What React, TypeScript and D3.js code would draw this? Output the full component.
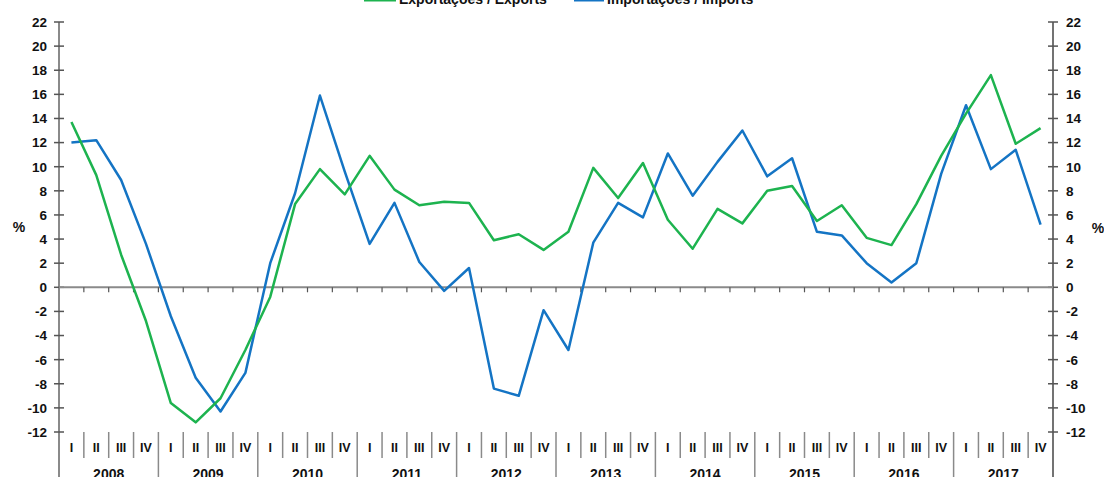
import React from "react";
import * as d3 from "d3";

// Quarterly year-on-year change, %, 2008 Q1 .. 2017 Q4
const years = ["2008", "2009", "2010", "2011", "2012", "2013", "2014", "2015", "2016", "2017"];
const quarters = ["I", "II", "III", "IV"];

const exportsPct = [
  13.7, 9.3, 2.7, -2.8,
  -9.6, -11.2, -9.2, -5.2,
  -0.8, 6.9, 9.8, 7.7,
  10.9, 8.1, 6.8, 7.1,
  7.0, 3.9, 4.4, 3.1,
  4.6, 9.9, 7.4, 10.3,
  5.6, 3.2, 6.5, 5.3,
  8.0, 8.4, 5.5, 6.8,
  4.1, 3.5, 6.9, 10.9,
  14.4, 17.6, 11.9, 13.2,
];

const importsPct = [
  12.0, 12.2, 8.9, 3.6,
  -2.4, -7.5, -10.3, -7.1,
  2.0, 7.8, 15.9, 9.6,
  3.6, 7.0, 2.1, -0.3,
  1.6, -8.4, -9.0, -1.9,
  -5.2, 3.7, 7.0, 5.8,
  11.1, 7.6, 10.4, 13.0,
  9.2, 10.7, 4.6, 4.3,
  2.0, 0.4, 2.0, 9.4,
  15.1, 9.8, 11.4, 5.2,
];

const yTicks = [22, 20, 18, 16, 14, 12, 10, 8, 6, 4, 2, 0, -2, -4, -6, -8, -10, -12];

const W = 1104;
const H = 477;
const FONT = "'Liberation Sans', Arial, sans-serif";
const GREEN = "#1db34f";
const BLUE = "#1474c4";
const AXIS = "#8a8a8a";

export default function App() {
  const left = 59;
  const right = 1053;

  const idx = d3.range(years.length * quarters.length);
  const x = d3.scaleBand<number>().domain(idx).range([left, right]).padding(0);
  const y = d3.scaleLinear().domain([-12, 22]).range([432, 22]);
  const cx = (i: number) => (x(i) as number) + x.bandwidth() / 2;

  const line = d3
    .line<number>()
    .x((_, i) => cx(i))
    .y((d) => y(d));

  const boundaries = d3.range(1, idx.length);

  return (
    <svg
      width={W}
      height={H}
      style={{ position: "absolute", left: 0, top: 0, background: "#fff" }}
      fontFamily={FONT}
      fontWeight="bold"
    >
      {/* legend, clipped at top like the original */}
      <g>
        <line x1={364} x2={396} y1={0} y2={0} stroke={GREEN} strokeWidth={3} />
        <text x={399} y={4} fontSize={14} fill="#111">Exportações / Exports</text>
        <line x1={574} x2={604} y1={0} y2={0} stroke={BLUE} strokeWidth={3} />
        <text x={607} y={4} fontSize={14} fill="#111">Importações / Imports</text>
      </g>

      {/* y axes */}
      <line x1={left} x2={left} y1={y(22)} y2={H} stroke={AXIS} strokeWidth={2} />
      <line x1={right} x2={right} y1={y(22)} y2={H} stroke="#444" strokeWidth={1.5} />
      {yTicks.map((t) => (
        <g key={t}>
          <line x1={left - 5} x2={left + 5} y1={y(t)} y2={y(t)} stroke="#555" strokeWidth={1.5} />
          <line x1={right - 5} x2={right + 5} y1={y(t)} y2={y(t)} stroke="#555" strokeWidth={1.5} />
          <text x={47} y={y(t)} dy="0.36em" textAnchor="end" fontSize={13.5} fill="#111">
            {t}
          </text>
          <text x={1066} y={y(t)} dy="0.36em" textAnchor="start" fontSize={13.5} fill="#111">
            {t}
          </text>
        </g>
      ))}
      <text x={19} y={232} textAnchor="middle" fontSize={14} fill="#111">%</text>
      <text x={1098} y={233} textAnchor="middle" fontSize={14} fill="#111">%</text>

      {/* zero line with quarter ticks */}
      <line x1={left} x2={right} y1={y(0)} y2={y(0)} stroke={AXIS} strokeWidth={2} />
      {boundaries.map((b) => (
        <line key={b} x1={x(b)} x2={x(b)} y1={y(0)} y2={y(0) + 5} stroke="#555" strokeWidth={1.2} />
      ))}

      {/* category axis: quarters and years */}
      {boundaries.map((b) => (
        <line
          key={"s" + b}
          x1={x(b)}
          x2={x(b)}
          y1={432}
          y2={b % 4 === 0 ? H : 458}
          stroke={AXIS}
          strokeWidth={1.5}
        />
      ))}
      {idx.map((i) => (
        <text key={"q" + i} x={cx(i)} y={452} textAnchor="middle" fontSize={12.5} fill="#111">
          {quarters[i % 4]}
        </text>
      ))}
      {years.map((yr, k) => (
        <text
          key={yr}
          x={((x(k * 4) as number) + (x(k * 4 + 3) as number) + x.bandwidth()) / 2}
          y={479}
          textAnchor="middle"
          fontSize={14}
          fill="#111"
        >
          {yr}
        </text>
      ))}

      {/* series */}
      <path d={line(importsPct) || ""} fill="none" stroke={BLUE} strokeWidth={2.5} strokeLinejoin="round" />
      <path d={line(exportsPct) || ""} fill="none" stroke={GREEN} strokeWidth={2.5} strokeLinejoin="round" />
    </svg>
  );
}
